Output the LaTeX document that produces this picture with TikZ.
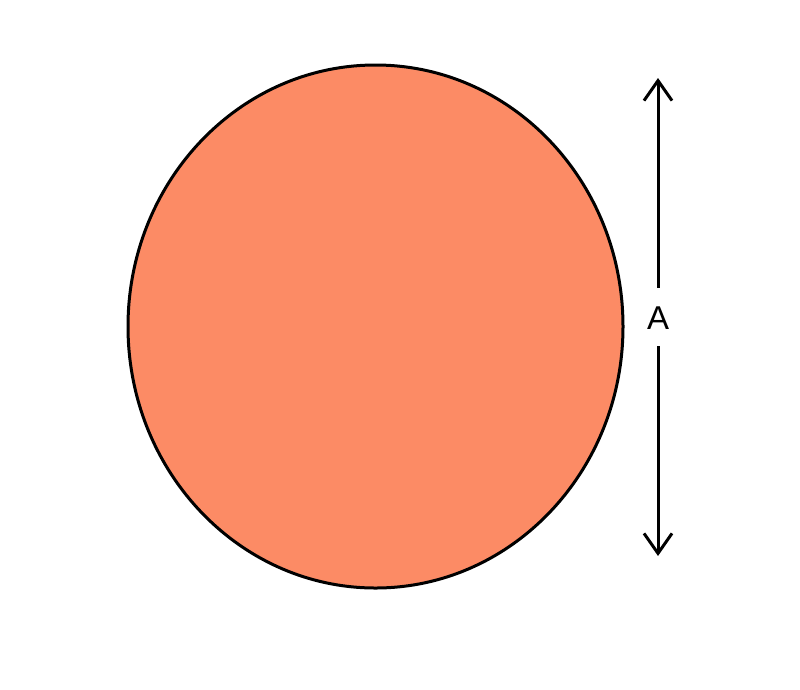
\documentclass[tikz,border=0pt]{standalone}
\usepackage{fontspec}
\setmainfont{Liberation Sans}
\usetikzlibrary{shapes.geometric,arrows.meta}
\definecolor{salmonfill}{RGB}{252,139,101}
\tikzset{
  disk/.style={ellipse,draw=black,fill=salmonfill,line width=3pt,inner sep=0pt,minimum width=495pt,minimum height=523pt},
  dimline/.style={draw=black,line width=3pt,-{Straight Barb[length=20pt,width=28pt,line width=3pt]}},
  dimlabel/.style={font=\fontsize{33}{33}\selectfont,text height=24pt,text depth=0pt,inner xsep=0pt,inner ysep=17pt}
}
\begin{document}
\begin{tikzpicture}[x=1pt,y=-1pt]
\useasboundingbox[fill=white] (0,0) rectangle (800,689);
\node[disk] (c) at (375.5,326.5) {};
\node[dimlabel] (a) at (658,317) {A};
\coordinate (top) at (658,78);
\coordinate (bot) at (658,556);
\draw[dimline] (a.north) -- (top);
\draw[dimline] (a.south) -- (bot);
\end{tikzpicture}
\end{document}
